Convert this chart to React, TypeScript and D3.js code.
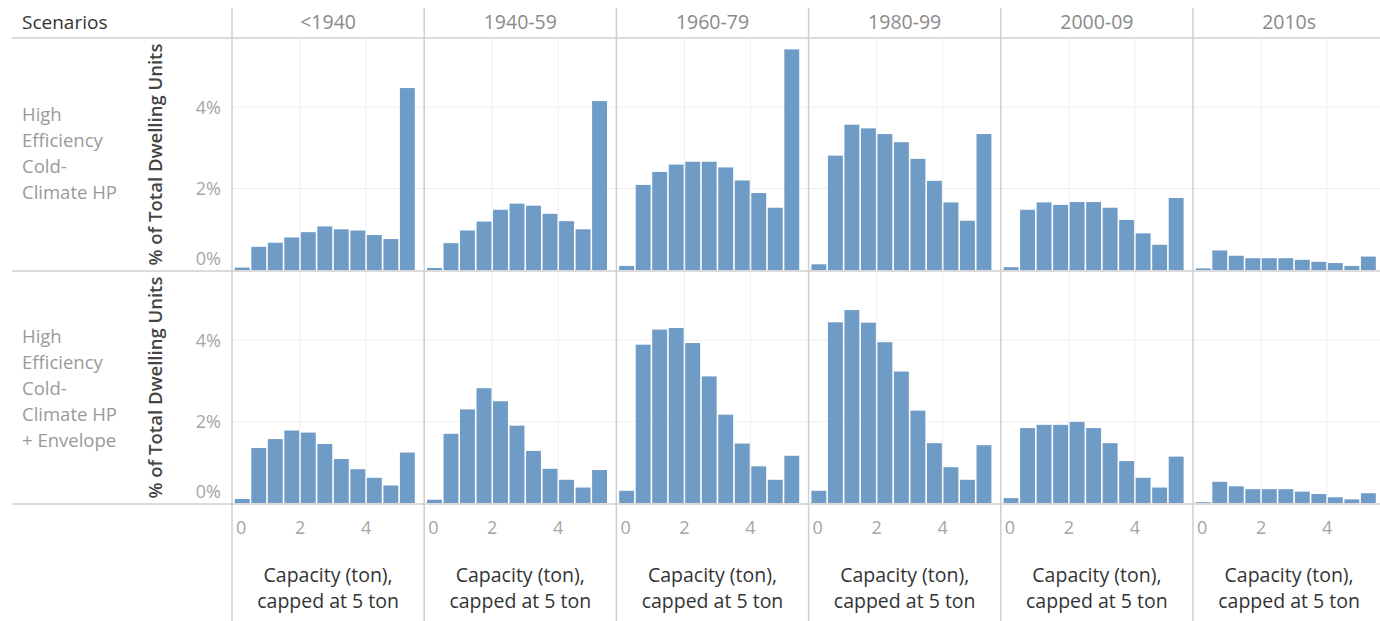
import React from "react";
import * as d3 from "d3";

const scenarios: string[][] = [
  ["High", "Efficiency", "Cold-", "Climate HP"],
  ["High", "Efficiency", "Cold-", "Climate HP", "+ Envelope"],
];
const decades = ["<1940", "1940-59", "1960-79", "1980-99", "2000-09", "2010s"];
const bins = [0, 0.5, 1, 1.5, 2, 2.5, 3, 3.5, 4, 4.5, 5];
const xTicks = [0, 2, 4];
const yTicks = [0, 2, 4];

// % of total dwelling units, scenario 1 (High Efficiency Cold-Climate HP)
const hp_lt1940 = [0.06, 0.57, 0.67, 0.8, 0.93, 1.07, 1.0, 0.97, 0.86, 0.76, 4.47];
const hp_1940_59 = [0.05, 0.66, 0.97, 1.19, 1.48, 1.63, 1.58, 1.38, 1.2, 1.0, 4.15];
const hp_1960_79 = [0.1, 2.09, 2.41, 2.59, 2.66, 2.66, 2.52, 2.2, 1.89, 1.53, 5.42];
const hp_1980_99 = [0.14, 2.81, 3.57, 3.48, 3.34, 3.14, 2.73, 2.19, 1.66, 1.21, 3.34];
const hp_2000_09 = [0.07, 1.48, 1.66, 1.6, 1.67, 1.67, 1.53, 1.23, 0.9, 0.62, 1.77];
const hp_2010s = [0.04, 0.48, 0.35, 0.29, 0.29, 0.29, 0.25, 0.2, 0.17, 0.1, 0.33];

// scenario 2 (High Efficiency Cold-Climate HP + Envelope)
const env_lt1940 = [0.1, 1.35, 1.57, 1.78, 1.73, 1.45, 1.08, 0.83, 0.62, 0.43, 1.24];
const env_1940_59 = [0.08, 1.7, 2.3, 2.82, 2.5, 1.9, 1.28, 0.84, 0.57, 0.38, 0.81];
const env_1960_79 = [0.3, 3.89, 4.26, 4.3, 3.93, 3.11, 2.17, 1.46, 0.9, 0.57, 1.16];
const env_1980_99 = [0.3, 4.44, 4.74, 4.43, 3.95, 3.23, 2.27, 1.47, 0.88, 0.57, 1.42];
const env_2000_09 = [0.12, 1.84, 1.92, 1.92, 1.99, 1.84, 1.47, 1.03, 0.62, 0.38, 1.14];
const env_2010s = [0.02, 0.52, 0.41, 0.34, 0.34, 0.34, 0.28, 0.22, 0.14, 0.09, 0.24];

const values: number[][][] = [
  [hp_lt1940, hp_1940_59, hp_1960_79, hp_1980_99, hp_2000_09, hp_2010s],
  [env_lt1940, env_1940_59, env_1960_79, env_1980_99, env_2000_09, env_2010s],
];

const W = 1380;
const H = 621;
const FONT = "'Open Sans', 'Noto Sans', sans-serif";
const panelLeft0 = 232;
const panelW = 192.2;
const headerY = 38;
const rowH = 233;
const binW = 0.5;

export default function App() {
  const x = d3.scaleLinear().domain([0, 5.76]).range([2, panelW]);
  const y = d3.scaleLinear().domain([0, 5.7]).range([rowH - 1, 0]);
  const lineColor = "#cfcfcf";
  const gridColor = "#efefef";

  return (
    <svg
      width={W}
      height={H}
      style={{ position: "absolute", left: 0, top: 0, background: "#fff" }}
      fontFamily={FONT}
    >
      <rect width={W} height={H} fill="#fff" />
      {/* header */}
      <text x={22} y={29} fontSize={19} fill="#333">Scenarios</text>
      {decades.map((d, j) => (
        <text
          key={d}
          x={panelLeft0 + j * panelW + panelW / 2}
          y={29}
          fontSize={19.5}
          fill="#8a8a8a"
          textAnchor="middle"
        >
          {d}
        </text>
      ))}

      {/* panels */}
      {values.map((row, i) => {
        const top = headerY + i * rowH;
        return (
          <g key={i} transform={`translate(0,${top})`}>
            {/* row header */}
            {scenarios[i].map((ln, k) => (
              <text
                key={k}
                x={22}
                y={(i === 0 ? 83 : 72) + k * 26}
                fontSize={18.5}
                fill="#9a9a9a"
              >
                {ln}
              </text>
            ))}
            {/* y axis title */}
            <text
              transform={`translate(161.5,${rowH / 2}) rotate(-90)`}
              textAnchor="middle"
              fontSize={18.5}
              fontWeight={600}
              fill="#444"
            >
              % of Total Dwelling Units
            </text>
            {yTicks.map((t) => (
              <text
                key={t}
                x={221}
                y={y(t) + (t === 0 ? -5 : 6.5)}
                textAnchor="end"
                fontSize={18}
                fill="#a5a5a5"
              >
                {t}%
              </text>
            ))}
            {row.map((vals, j) => {
              const left = panelLeft0 + j * panelW;
              return (
                <g key={j} transform={`translate(${left},0)`}>
                  {yTicks.filter((t) => t > 0).map((t) => (
                    <line key={"h" + t} x1={0} x2={panelW} y1={y(t)} y2={y(t)} stroke={gridColor} strokeWidth={1} />
                  ))}
                  {xTicks.filter((t) => t > 0).map((t) => (
                    <line key={"v" + t} x1={x(t)} x2={x(t)} y1={0} y2={rowH} stroke={gridColor} strokeWidth={1} />
                  ))}
                  {vals.map((v, k) => {
                    const x0 = x(bins[k]);
                    const x1 = x(bins[k] + binW);
                    return (
                      <rect
                        key={k}
                        x={x0 + 0.8}
                        width={Math.max(0, x1 - x0 - 1.6)}
                        y={y(v)}
                        height={y(0) - y(v)}
                        fill="#6f9cc7"
                      />
                    );
                  })}
                </g>
              );
            })}
          </g>
        );
      })}

      {/* x axis ticks */}
      {decades.map((d, j) => {
        const left = panelLeft0 + j * panelW;
        return (
          <g key={d} transform={`translate(${left},0)`}>
            {xTicks.map((t) => (
              <text
                key={t}
                x={t === 0 ? x(t) + 2 : x(t)}
                y={534}
                textAnchor={t === 0 ? "start" : "middle"}
                fontSize={18}
                fill="#a5a5a5"
              >
                {t}
              </text>
            ))}
            <text x={panelW / 2} y={582} textAnchor="middle" fontSize={19.5} fill="#333">
              Capacity (ton),
            </text>
            <text x={panelW / 2} y={608} textAnchor="middle" fontSize={19.5} fill="#333">
              capped at 5 ton
            </text>
          </g>
        );
      })}

      {/* lines */}
      {[headerY, headerY + rowH, headerY + 2 * rowH].map((yy) => (
        <line key={yy} x1={12} x2={W} y1={yy} y2={yy} stroke={lineColor} strokeWidth={1.5} />
      ))}
      {decades.map((d, j) => (
        <line
          key={d}
          x1={panelLeft0 + j * panelW}
          x2={panelLeft0 + j * panelW}
          y1={8}
          y2={H}
          stroke={lineColor}
          strokeWidth={1.5}
        />
      ))}
    </svg>
  );
}
